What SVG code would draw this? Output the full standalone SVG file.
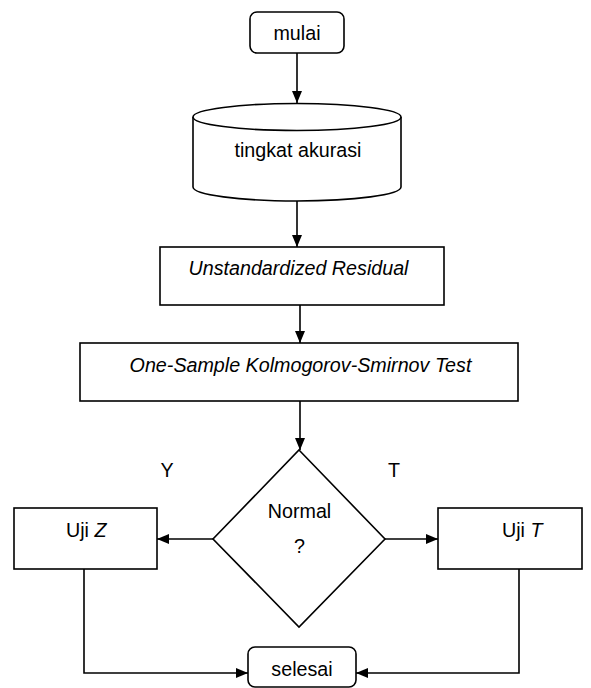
<svg xmlns="http://www.w3.org/2000/svg" width="591" height="688" viewBox="0 0 591 688">
  <defs>
    <marker id="arrow" viewBox="0 0 12 10" refX="12" refY="5" markerWidth="12" markerHeight="10" markerUnits="userSpaceOnUse" orient="auto">
      <path d="M0,0 L12,5 L0,10 Z" fill="#000"/>
    </marker>
  </defs>
  <style>
    .shape { fill: #fff; stroke: #000; stroke-width: 1.6; }
    .line { fill: none; stroke: #000; stroke-width: 1.6; marker-end: url(#arrow); }
    text { font-family: "Liberation Sans", Arial, sans-serif; font-size: 19.7px; fill: #000; }
    .c { text-anchor: middle; }
    .i { font-style: italic; }
  </style>
  <rect width="591" height="688" fill="#fff"/>

  <g id="connectors">
    <line class="line" x1="297" y1="53" x2="297" y2="103"/>
    <line class="line" x1="297" y1="201" x2="297" y2="247"/>
    <line class="line" x1="300" y1="305" x2="300" y2="343"/>
    <line class="line" x1="300" y1="401" x2="300" y2="450"/>
    <line class="line" x1="213" y1="539" x2="157" y2="539"/>
    <line class="line" x1="385" y1="539" x2="438" y2="539"/>
    <polyline class="line" points="84,569 84,673 248,673"/>
    <polyline class="line" points="519,569 519,673 356,673"/>
  </g>

  <g id="start">
    <rect class="shape" x="250" y="12" width="94" height="41" rx="7"/>
    <text class="c" x="297" y="40">mulai</text>
  </g>

  <g id="accuracy">
    <path class="shape" d="M193,117 L193,187 A104,14 0 0 0 401,187 L401,117"/>
    <ellipse class="shape" cx="297" cy="117" rx="104" ry="13.5"/>
    <text class="c" x="298" y="157">tingkat akurasi</text>
  </g>

  <g id="residual">
    <rect class="shape" x="160" y="247" width="284" height="58"/>
    <text class="c i" x="298.5" y="275">Unstandardized Residual</text>
  </g>

  <g id="ks-test">
    <rect class="shape" x="80" y="343" width="438" height="58"/>
    <text class="c i" x="300.5" y="372">One-Sample Kolmogorov-Smirnov Test</text>
  </g>

  <g id="decision">
    <polygon class="shape" points="299,450 385,539 299,627 213,539"/>
    <text class="c" x="299.5" y="518">Normal</text>
    <text class="c" x="299.5" y="553">?</text>
  </g>

  <g id="label-y">
    <text class="c" x="167" y="477">Y</text>
  </g>
  <g id="label-t">
    <text class="c" x="394" y="477">T</text>
  </g>

  <g id="uji-z">
    <rect class="shape" x="14" y="508" width="143" height="61"/>
    <text x="66" y="537">Uji <tspan class="i">Z</tspan></text>
  </g>

  <g id="uji-t">
    <rect class="shape" x="438" y="508" width="144" height="61"/>
    <text x="502" y="537">Uji <tspan class="i">T</tspan></text>
  </g>

  <g id="end">
    <rect class="shape" x="248" y="647" width="108" height="40" rx="7"/>
    <text class="c" x="302" y="676">selesai</text>
  </g>
</svg>
